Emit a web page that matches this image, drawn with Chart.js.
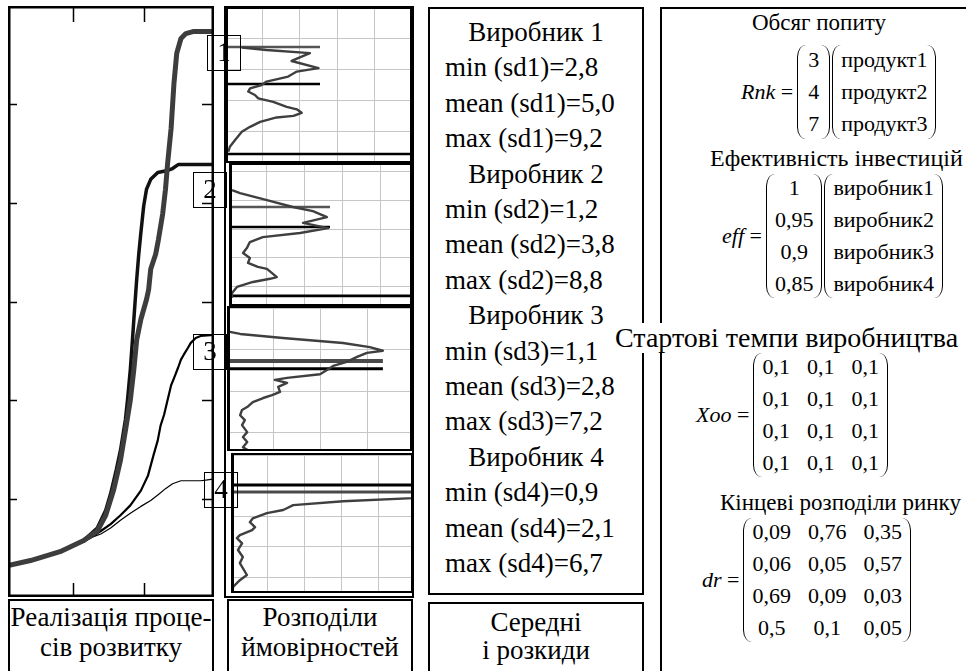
<!DOCTYPE html>
<html lang="uk">
<head>
<meta charset="utf-8">
<title>Реалізація процесів розвитку</title>
<script src="https://cdn.jsdelivr.net/npm/chart.js@4.4.1/dist/chart.umd.min.js"></script>
<style>
  body { margin: 0; width: 966px; height: 671px; overflow: hidden; background: #fff;
         font-family: "Liberation Serif", "Times New Roman", serif; color: #000; position: relative; }
  .abs { position: absolute; }
  .frame { position: absolute; border: 2px solid #000; box-sizing: border-box; }
  canvas { display: block; }
  .tag { position: absolute; width: 34px; height: 36px; border: 1.5px solid #000; box-sizing: border-box;
         font-size: 27px; line-height: 33px; text-align: center; }
  .cap { position: absolute; font-size: 27px; line-height: 30px; text-align: center; white-space: nowrap; }
  .stats { position: absolute; left: 430px; top: 15px; width: 212px; font-size: 27px; line-height: 35.4px; white-space: nowrap; }
  .stats .v { text-align: center; }
  .stats .m { padding-left: 15px; }
  .hd { position: absolute; font-size: 24px; line-height: 30px; white-space: nowrap; }
  .mat { position: absolute; display: flex; align-items: center; font-size: 22px; white-space: nowrap; }
  .mat .nm { margin-right: 4px; }
  .pl { width: 8px; border-left: 1.6px solid #000; border-radius: 12px 0 0 12px / 16px 0 0 16px; }
  .pr { width: 8px; border-right: 1.6px solid #000; border-radius: 0 12px 12px 0 / 0 16px 16px 0; }
  .col { display: flex; flex-direction: column; align-items: center; line-height: 32px; }
  .grid3 { display: grid; grid-template-columns: repeat(3, auto); column-gap: 17px; justify-items: center; line-height: 32px; }
</style>
</head>
<body>

<!-- процеси розвитку -->
<div class="abs" style="left:8px;top:6px"><canvas id="proc" width="206" height="591"></canvas></div>

<!-- розподіли ймовірностей -->
<div class="frame" style="left:224px;top:6px;width:190px;height:592px"></div>
<div class="abs" style="left:225px;top:7px"><canvas id="dist1" width="187" height="156"></canvas></div>
<div class="abs" style="left:229px;top:163px"><canvas id="dist2" width="183" height="143"></canvas></div>
<div class="abs" style="left:227px;top:306px"><canvas id="dist3" width="185" height="145"></canvas></div>
<div class="abs" style="left:231px;top:453px"><canvas id="dist4" width="182" height="140"></canvas></div>

<div class="tag" style="left:207px;top:35px">1</div>
<div class="tag" style="left:193px;top:172px">2</div>
<div class="tag" style="left:193px;top:334px">3</div>
<div class="tag" style="left:204px;top:472px">4</div>

<!-- підписи знизу -->
<div class="frame" style="left:8px;top:599px;width:206px;height:100px"></div>
<div class="cap" style="left:8px;top:602px;width:206px">Реалізація проце-<br>сів розвитку</div>
<div class="frame" style="left:227px;top:599px;width:186px;height:100px"></div>
<div class="cap" style="left:227px;top:602px;width:186px">Розподіли<br>ймовірностей</div>
<div class="frame" style="left:428px;top:602px;width:216px;height:100px"></div>
<div class="cap" style="left:428px;top:608px;width:216px;line-height:28px">Середні<br>і розкиди</div>

<!-- середні і розкиди -->
<div class="frame" style="left:428px;top:7px;width:216px;height:588px"></div>
<div class="stats">
  <div class="v">Виробник 1</div>
  <div class="m">min (sd1)=2,8</div>
  <div class="m">mean (sd1)=5,0</div>
  <div class="m">max (sd1)=9,2</div>
  <div class="v">Виробник 2</div>
  <div class="m">min (sd2)=1,2</div>
  <div class="m">mean (sd2)=3,8</div>
  <div class="m">max (sd2)=8,8</div>
  <div class="v">Виробник 3</div>
  <div class="m">min (sd3)=1,1</div>
  <div class="m">mean (sd3)=2,8</div>
  <div class="m">max (sd3)=7,2</div>
  <div class="v">Виробник 4</div>
  <div class="m">min (sd4)=0,9</div>
  <div class="m">mean (sd4)=2,1</div>
  <div class="m">max (sd4)=6,7</div>
</div>

<!-- вихідні дані -->
<div class="frame" style="left:660px;top:7px;width:320px;height:700px"></div>
<div class="hd" style="left:752px;top:8px;font-size:23px">Обсяг попиту</div>
<div class="mat" style="left:741px;top:44px">
  <span class="nm"><i>Rnk</i> =</span>
  <div class="pl" style="height:94px"></div>
  <div class="col" style="padding:0 2px"><span>3</span><span>4</span><span>7</span></div>
  <div class="pr" style="height:94px"></div>
  <div class="pl" style="height:94px;margin-left:2px"></div>
  <div class="col"><span>продукт1</span><span>продукт2</span><span>продукт3</span></div>
  <div class="pr" style="height:94px"></div>
</div>
<div class="hd" style="left:710px;top:143px">Ефективність інвестицій</div>
<div class="mat" style="left:722px;top:172px">
  <span class="nm"><i>eff</i> =</span>
  <div class="pl" style="height:124px"></div>
  <div class="col"><span>1</span><span>0,95</span><span>0,9</span><span>0,85</span></div>
  <div class="pr" style="height:124px"></div>
  <div class="pl" style="height:124px;margin-left:2px"></div>
  <div class="col"><span>виробник1</span><span>виробник2</span><span>виробник3</span><span>виробник4</span></div>
  <div class="pr" style="height:124px"></div>
</div>
<div class="hd" style="left:615px;top:323px;font-size:28px;background:#fff;padding-right:2px">Стартові темпи виробництва</div>
<div class="mat" style="left:696px;top:351px">
  <span class="nm"><i>Xoo</i> =</span>
  <div class="pl" style="height:124px"></div>
  <div class="grid3" id="xoo"></div>
  <div class="pr" style="height:124px"></div>
</div>
<div class="hd" style="left:720px;top:488px;font-size:23px">Кінцеві розподіли ринку</div>
<div class="mat" style="left:702px;top:516px">
  <span class="nm"><i>dr</i> =</span>
  <div class="pl" style="height:124px"></div>
  <div class="grid3" id="dr"></div>
  <div class="pr" style="height:124px"></div>
</div>

<script>
// процеси розвитку: час (x) і рівень (y)
const proc1X = [0.07, 0.39, 0.81, 1.14, 1.34, 1.46, 1.57, 1.67, 1.74, 1.81, 1.86, 1.90, 1.96, 2.04, 2.07, 2.1, 2.17, 2.21, 2.27, 2.31, 2.34, 2.39, 2.43, 2.47, 2.53, 2.6, 2.7, 3.0];
const proc1Y = [0.32, 0.37, 0.46, 0.57, 0.67, 0.83, 1.08, 1.39, 1.69, 2.0, 2.31, 2.61, 2.82, 3.02, 3.12, 3.33, 3.48, 3.63, 3.89, 4.14, 4.40, 4.76, 5.21, 5.52, 5.67, 5.72, 5.74, 5.74];
const proc2X = [0.07, 0.39, 0.81, 1.14, 1.34, 1.46, 1.53, 1.61, 1.67, 1.74, 1.77, 1.81, 1.84, 1.87, 1.9, 1.93, 1.96, 2.0, 2.04, 2.1, 2.2, 2.34, 2.41, 2.49, 3.0];
const proc2Y = [0.32, 0.37, 0.46, 0.57, 0.70, 0.88, 1.05, 1.29, 1.49, 1.80, 2.0, 2.31, 2.61, 2.92, 3.22, 3.48, 3.70, 3.97, 4.14, 4.24, 4.31, 4.33, 4.35, 4.39, 4.39];
const proc3X = [0.07, 0.39, 0.81, 1.14, 1.24, 1.39, 1.53, 1.67, 1.81, 1.96, 2.06, 2.14, 2.2, 2.24, 2.29, 2.34, 2.39, 2.43, 2.49, 2.53, 2.57, 2.63, 2.67, 2.74, 2.81, 3.0];
const proc3Y = [0.32, 0.37, 0.46, 0.57, 0.60, 0.67, 0.74, 0.83, 0.93, 1.08, 1.23, 1.44, 1.59, 1.74, 1.85, 2.0, 2.15, 2.22, 2.33, 2.41, 2.46, 2.53, 2.58, 2.63, 2.65, 2.66];
const proc4X = [0.07, 0.39, 0.81, 1.14, 1.24, 1.39, 1.53, 1.67, 1.81, 1.96, 2.1, 2.21, 2.31, 2.41, 2.53, 2.81, 2.91, 3.0];
const proc4Y = [0.32, 0.37, 0.46, 0.57, 0.60, 0.64, 0.70, 0.78, 0.85, 0.92, 0.98, 1.04, 1.10, 1.15, 1.18, 1.18, 1.19, 1.20];
const procTicksX = [1, 2];
const procTicksY = [1, 2, 3, 4, 5];

// розподіли ймовірностей: ймовірність (p) по рівню (v)
const dist1P = [0.45, 1.11, 2.27, 1.78, 2.50, 1.92, 1.69, 1.11, 0.98, 0.67, 0.62, 0.80, 0.89, 1.29, 1.65, 1.92, 2.05, 1.83, 1.38, 0.94, 0.67, 0.45, 0.27, 0.13, 0.09];
const dist1V = [3.70, 3.62, 3.52, 3.27, 3.04, 2.93, 2.77, 2.61, 2.50, 2.39, 2.29, 2.18, 2.07, 1.96, 1.80, 1.72, 1.61, 1.51, 1.46, 1.32, 1.16, 1.00, 0.74, 0.52, 0.36];
const dist2P = [0.08, 0.29, 1.0, 1.68, 2.21, 2.58, 1.95, 2.61, 1.87, 0.89, 0.55, 0.47, 0.37, 0.55, 0.5, 0.76, 1.0, 1.26, 1.08, 0.63, 0.21, 0.08, 0.08];
const dist2V = [3.34, 3.24, 3.0, 2.76, 2.62, 2.41, 2.21, 2.03, 1.86, 1.72, 1.55, 1.34, 1.17, 1.0, 0.83, 0.69, 0.62, 0.34, 0.28, 0.17, 0.0, -0.21, -0.34];
const dist3P = [0.06, 0.28, 1.19, 2.47, 3.04, 3.32, 2.98, 2.77, 2.55, 2.26, 2.13, 1.98, 1.28, 1.02, 1.28, 1.09, 1.13, 0.96, 0.77, 0.55, 0.43, 0.32, 0.28, 0.38, 0.32, 0.43, 0.34, 0.43, 0.34, 0.45];
const dist3V = [2.44, 2.39, 2.29, 2.17, 2.07, 1.98, 1.93, 1.83, 1.71, 1.61, 1.51, 1.41, 1.32, 1.27, 1.20, 1.10, 0.98, 0.90, 0.83, 0.73, 0.61, 0.54, 0.41, 0.29, 0.17, 0.0, -0.12, -0.24, -0.37, -0.44];
const dist4P = [5.6, 4.92, 3.03, 1.68, 1.51, 1.41, 0.97, 0.59, 0.51, 0.65, 0.57, 0.24, 0.16, 0.30, 0.19, 0.32, 0.24, 0.43, 0.24, 0.05, 0.05];
const dist4V = [2.72, 2.59, 2.49, 2.36, 2.26, 2.20, 2.10, 1.93, 1.80, 1.64, 1.54, 1.38, 1.28, 1.11, 0.89, 0.66, 0.46, 0.07, -0.10, -0.33, -0.49];

// горизонтальні позначки: рівень і довжина
const mark1V = [3.72, 2.53, 0.29];
const mark1Len = [2.54, 2.54, 5];
const mark2V = [2.76, 2.07, -0.31];
const mark2Len = [2.66, 2.66, 4.82];
const mark3V = [1.73, 1.54];
const mark3Len = [3.32, 3.32];
const mark4V = [3.02, 2.79];
const mark4Len = [4.92, 4.92];

// матриці
const xooRows = [["0,1", "0,1", "0,1"], ["0,1", "0,1", "0,1"], ["0,1", "0,1", "0,1"], ["0,1", "0,1", "0,1"]];
const drRows = [["0,09", "0,76", "0,35"], ["0,06", "0,05", "0,57"], ["0,69", "0,09", "0,03"], ["0,5", "0,1", "0,05"]];

function fillGrid(id, rows) {
  const el = document.getElementById(id);
  rows.forEach((r) => r.forEach((c) => {
    const s = document.createElement("span");
    s.textContent = c;
    el.appendChild(s);
  }));
}
fillGrid("xoo", xooRows);
fillGrid("dr", drRows);

Chart.defaults.font.family = "'Liberation Serif', 'Times New Roman', serif";

const toPts = (xs, ys) => xs.map((x, i) => ({ x: x, y: ys[i] }));

function lineSet(pts, color, width) {
  return {
    data: pts,
    borderColor: color,
    borderWidth: width,
    pointRadius: 0,
    tension: 0,
    fill: false,
    borderJoinStyle: "round",
    borderCapStyle: "butt",
  };
}

// inward ticks + frame for the process chart
const procFrame = {
  id: "procFrame",
  afterDraw(chart) {
    const { ctx, chartArea: a, scales } = chart;
    ctx.save();
    ctx.strokeStyle = "#000";
    ctx.lineWidth = 1.5;
    ctx.beginPath();
    procTicksX.forEach((v) => {
      const px = Math.round(scales.x.getPixelForValue(v)) + 0.5;
      ctx.moveTo(px, a.top);
      ctx.lineTo(px, a.top + 16);
      ctx.moveTo(px, a.bottom);
      ctx.lineTo(px, a.bottom - 14);
    });
    procTicksY.forEach((v) => {
      const py = Math.round(scales.y.getPixelForValue(v)) + 0.5;
      ctx.moveTo(a.left, py);
      ctx.lineTo(a.left + 9, py);
      ctx.moveTo(a.right, py);
      ctx.lineTo(a.right - 12, py);
    });
    ctx.stroke();
    ctx.lineWidth = 2.5;
    ctx.strokeRect(a.left + 1.25, a.top + 1.25, a.width - 2.5, a.height - 2.5);
    ctx.restore();
  },
};

new Chart(document.getElementById("proc"), {
  type: "line",
  data: {
    datasets: [
      lineSet(toPts(proc1X, proc1Y), "#3d3d3d", 5),
      lineSet(toPts(proc2X, proc2Y), "#111", 3.5),
      lineSet(toPts(proc3X, proc3Y), "#000", 2.2),
      lineSet(toPts(proc4X, proc4Y), "#000", 1.2),
    ],
  },
  options: {
    responsive: false,
    animation: false,
    devicePixelRatio: 1,
    layout: { padding: 0 },
    plugins: { legend: { display: false }, tooltip: { enabled: false } },
    scales: {
      x: { type: "linear", min: 0.07, max: 3, display: false },
      y: { type: "linear", min: 0, max: 6, display: false },
    },
  },
  plugins: [procFrame],
});

const panelFrame = {
  id: "panelFrame",
  afterDatasetsDraw(chart) {
    const { ctx, chartArea: a } = chart;
    ctx.save();
    ctx.strokeStyle = "#000";
    ctx.lineWidth = 2;
    ctx.strokeRect(a.left + 1, a.top + 1, a.width - 2, a.height - 2);
    ctx.lineWidth = 3;
    ctx.beginPath();
    ctx.moveTo(a.left + 1.5, a.top);
    ctx.lineTo(a.left + 1.5, a.bottom);
    ctx.stroke();
    ctx.restore();
  },
};

function makePanel(id, p, v, markV, markLen, markColors, markWidths, xr, yr, gx, gy) {
  const marks = markV.map((lv, i) =>
    lineSet([{ x: 0, y: lv }, { x: markLen[i], y: lv }], markColors[i], markWidths[i])
  );
  new Chart(document.getElementById(id), {
    type: "line",
    data: { datasets: [lineSet(toPts(p, v), "#3f3f3f", 2.4)].concat(marks) },
    options: {
      responsive: false,
      animation: false,
      devicePixelRatio: 1,
      layout: { padding: 0 },
      plugins: { legend: { display: false }, tooltip: { enabled: false } },
      scales: {
        x: {
          type: "linear", min: xr[0], max: xr[1],
          ticks: { display: false },
          border: { display: false },
          grid: { color: "#c6c6c6", lineWidth: 1, drawTicks: false },
          afterBuildTicks: (s) => { s.ticks = gx.map((t) => ({ value: t })); },
        },
        y: {
          type: "linear", min: yr[0], max: yr[1],
          ticks: { display: false },
          border: { display: false },
          grid: { color: "#c6c6c6", lineWidth: 1, drawTicks: false },
          afterBuildTicks: (s) => { s.ticks = gy.map((t) => ({ value: t })); },
        },
      },
    },
    plugins: [panelFrame],
  });
}

makePanel("dist1", dist1P, dist1V, mark1V, mark1Len, ["#555", "#000", "#000"], [2.6, 2.6, 2.6],
  [0, 5], [0, 5], [1, 2, 3, 4], [1, 2, 3, 4]);
makePanel("dist2", dist2P, dist2V, mark2V, mark2Len, ["#555", "#000", "#000"], [2.6, 2.6, 2.6],
  [0, 4.82], [-0.66, 4.28], [1, 2, 3, 4], [0, 1, 2, 3, 4]);
makePanel("dist3", dist3P, dist3V, mark3V, mark3Len, ["#4a4a4a", "#000"], [4, 3],
  [0, 3.94], [-0.46, 3.07], [1, 2, 3], [0, 1, 2, 3]);
makePanel("dist4", dist4P, dist4V, mark4V, mark4Len, ["#000", "#4a4a4a"], [3, 3],
  [0, 4.92], [-0.52, 4.07], [1, 2, 3, 4], [0, 1, 2, 3, 4]);
</script>
</body>
</html>
